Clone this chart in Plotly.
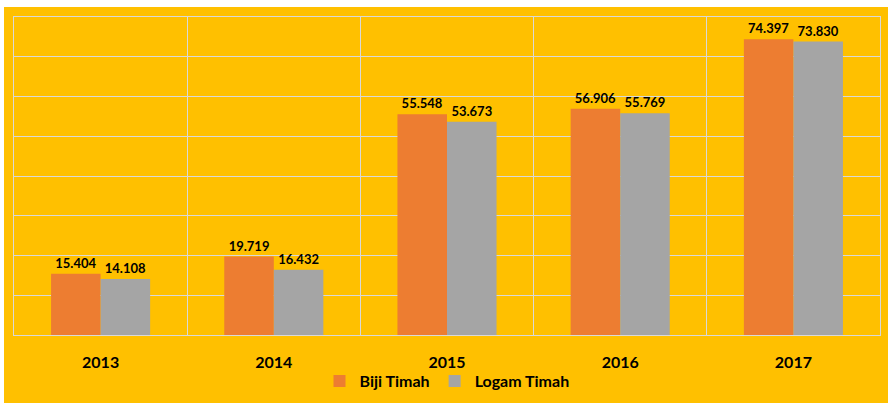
import plotly.graph_objects as go

years = ["2013", "2014", "2015", "2016", "2017"]
biji_timah = [15.404, 19.719, 55.548, 56.906, 74.397]
logam_timah = [14.108, 16.432, 53.673, 55.769, 73.830]

ORANGE = "#ED7D31"
GRAY = "#A5A5A5"
BG = "#FFC000"
GRID = "#D9D9D9"
FONT = "Lato"

fig = go.Figure()
fig.add_trace(go.Bar(
    name="Biji Timah", x=years, y=biji_timah, marker_color=ORANGE,
    marker_line_width=0,
    texttemplate="%{y:.3f}", textposition="outside",
    textfont=dict(family=FONT, size=13, color="black", weight="bold"),
    cliponaxis=False,
))
fig.add_trace(go.Bar(
    name="Logam Timah", x=years, y=logam_timah, marker_color=GRAY,
    marker_line_width=0,
    texttemplate="%{y:.3f}", textposition="outside",
    textfont=dict(family=FONT, size=13, color="black", weight="bold"),
    cliponaxis=False,
))

L, R, T, B = 14, 8, 17, 71
W, H = 888, 406
pw, ph = W - L - R, H - T - B

def px_x(p):
    return (p - L) / pw

def px_y(p):
    return (H - B - p) / ph

fig.update_layout(
    width=W, height=H,
    margin=dict(l=L, r=R, t=T, b=B),
    paper_bgcolor=BG, plot_bgcolor=BG,
    barmode="group", bargap=0.428, bargroupgap=0,
    font=dict(family=FONT, color="black"),
    legend=dict(
        orientation="h", x=0.5, xanchor="center",
        y=px_y(381), yanchor="middle",
        font=dict(family=FONT, size=16, color="black", weight="bold"),
        bgcolor="rgba(0,0,0,0)",
    ),
    xaxis=dict(
        type="category", tickson="boundaries", showgrid=True,
        gridcolor=GRID, gridwidth=1, showline=True, linecolor=GRID,
        mirror=True, ticks="", ticklabelstandoff=13,
        tickfont=dict(family=FONT, size=16, color="black", weight="bold"),
    ),
    yaxis=dict(
        range=[0, 80], dtick=10, showgrid=True, gridcolor=GRID,
        gridwidth=1, showticklabels=False, zeroline=False,
        showline=True, linecolor=GRID, mirror=True,
    ),
    shapes=[
        dict(type="rect", xref="paper", yref="paper",
             x0=px_x(0), x1=px_x(4), y0=px_y(H), y1=px_y(0),
             fillcolor="white", line_width=0, layer="below"),
        dict(type="rect", xref="paper", yref="paper",
             x0=px_x(0), x1=px_x(W), y0=px_y(7), y1=px_y(0),
             fillcolor="white", line_width=0, layer="below"),
    ],
)

fig.write_html(
    "out.html",
    config={"displayModeBar": False},
    post_script=(
        "document.body.style.margin='0';"
        "document.body.style.overflow='hidden';"
        "document.documentElement.style.background='" + BG + "';"
        "document.body.style.background='" + BG + "';"
    ),
)
